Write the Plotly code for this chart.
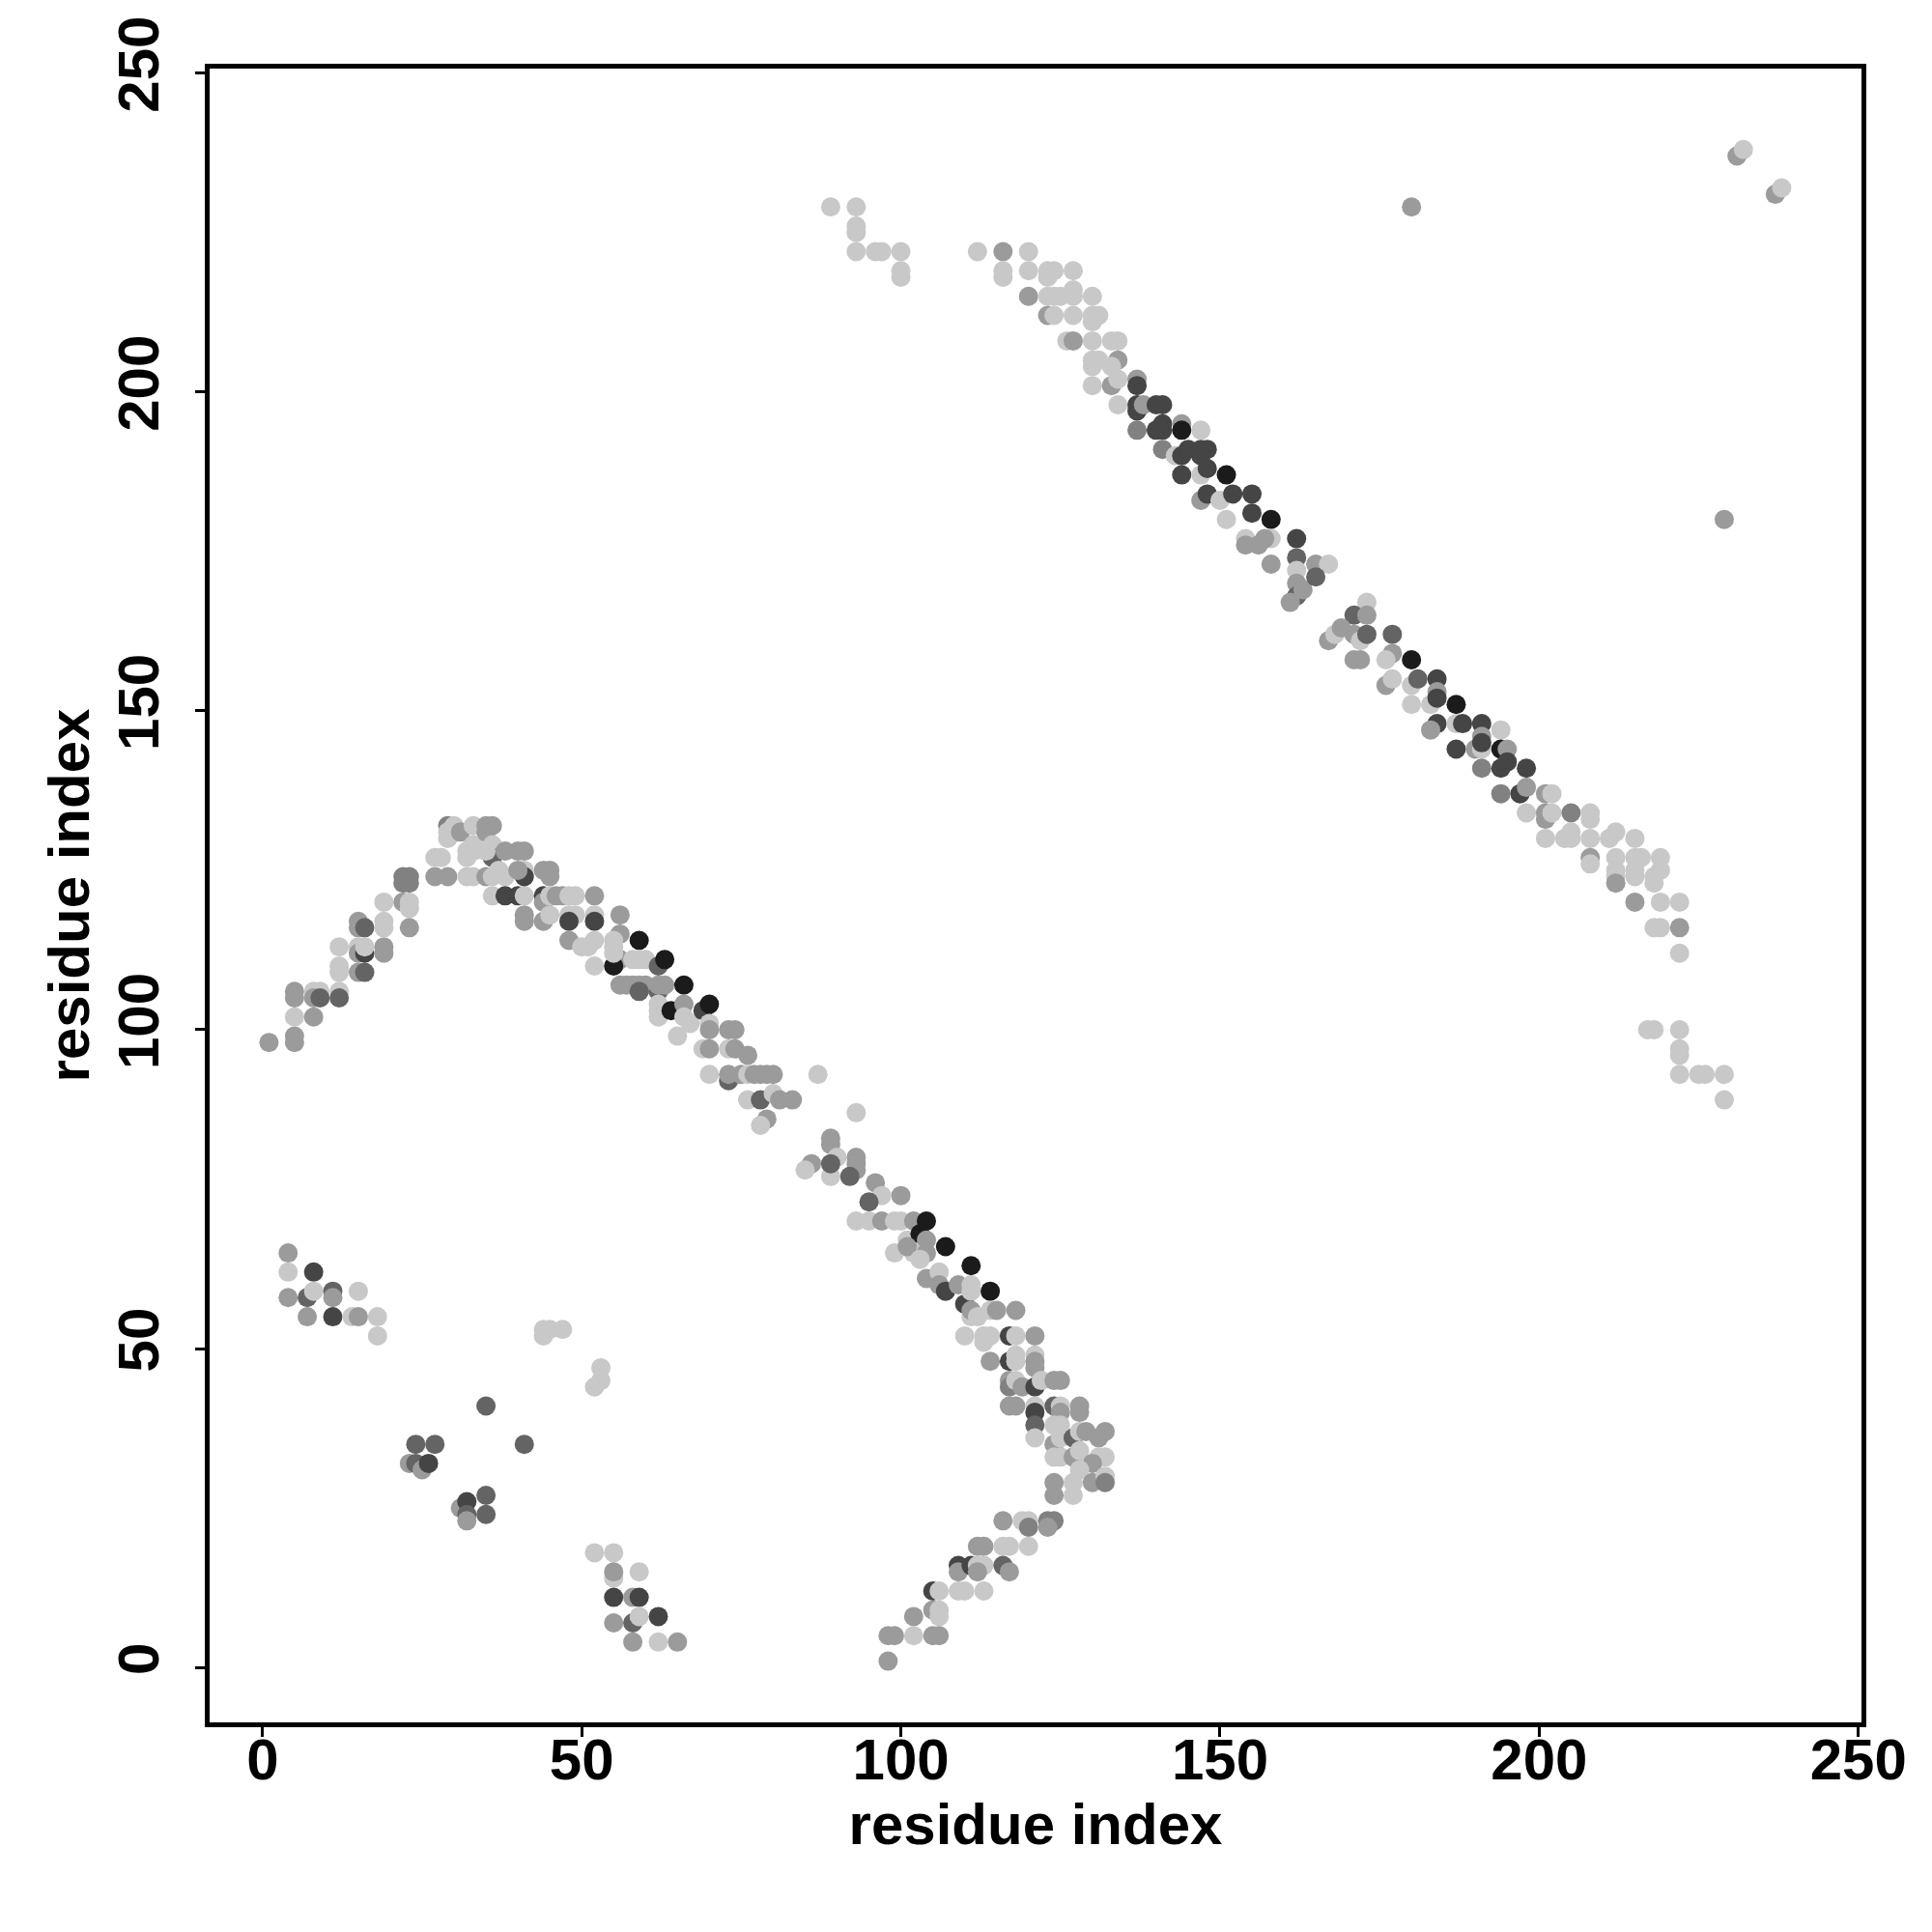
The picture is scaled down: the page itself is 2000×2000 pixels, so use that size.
import plotly.graph_objects as go

# Contact map: (residue i, residue j, contact score)
lower_left = [(4,65,0.39),(4,62,0.2),(8,62,0.75),(4,58,0.39),(7,58,0.62),(8,59,0.2),(11,59,0.62),(11,58,0.39),
              (15,59,0.2),(7,55,0.39),(11,55,0.75),(14,55,0.2),(15,55,0.39),(18,55,0.2),(18,52,0.2)]
mid_light = [(44,53,0.2),(45,53,0.2),(47,53,0.2),(44,52,0.2),(53,47,0.2),(53,45,0.2),(52,44,0.2)]
mid_dark = [(35,41,0.62),(24,35,0.62),(27,35,0.62),(41,35,0.62),(23,32,0.39),(24,32,0.62),(25,31,0.39),(26,32,0.75),
            (31,25,0.39),(32,26,0.75),(32,24,0.62),(32,23,0.39),(35,27,0.62),(35,24,0.62)]
bottom_cluster = [(52,18,0.2),(55,18,0.2),(55,14,0.2),(55,15,0.39),(59,15,0.2),(55,11,0.75),(58,11,0.39),(59,11,0.75),
                  (55,7,0.39),(58,7,0.62),(59,8,0.2),(62,8,0.75),(58,4,0.39),(62,4,0.2),(65,4,0.39)]
rise_band = [(1,98,0.39),(5,98,0.39),(5,99,0.39),(5,102,0.2),(8,102,0.39),(5,106,0.39),(5,105,0.39),(8,106,0.2),
             (9,106,0.2),(8,105,0.39),(9,105,0.62),(12,106,0.2),(12,105,0.62),(12,110,0.2),(12,109,0.2),(15,109,0.39),
             (16,109,0.62),(12,113,0.2),(15,113,0.2),(15,112,0.39),(16,112,0.75),(16,113,0.2),(19,113,0.39),(19,112,0.39),
             (15,117,0.39),(15,116,0.39),(16,116,0.62),(19,117,0.2),(19,116,0.2),(19,120,0.2),(22,120,0.39),(23,120,0.2),
             (23,119,0.2),(23,116,0.39),(22,124,0.5),(23,124,0.5),(22,123,0.5),(23,123,0.5),(27,124,0.39),(29,124,0.39),
             (27,127,0.2),(28,127,0.2),(29,132,0.5),(29,131,0.2),(30,132,0.2),(29,130,0.2),(31,131,0.39),(33,132,0.2),
             (32,128,0.2),(33,128,0.2),(32,127,0.2),(33,129,0.2),(32,124,0.2),(33,124,0.2),(35,124,0.39),(35,132,0.39),
             (36,132,0.39),(35,131,0.39),(36,129,0.2),(36,127,0.62),(35,128,0.2),(38,128,0.39),(40,128,0.39),(41,128,0.39),
             (36,124,0.2),(37,125,0.2),(38,124,0.2)]
fall_band = [(36,121,0.2),(38,121,0.75),(40,121,0.75),(41,121,0.2),(41,125,0.2),(41,124,0.75),(40,125,0.39),(44,125,0.39),
             (45,125,0.39),(45,124,0.39),(44,121,0.75),(44,120,0.39),(45,121,0.2),(46,121,0.39),(47,121,0.39),(48,121,0.2),
             (49,121,0.2),(52,121,0.39),(41,118,0.39),(41,117,0.39),(44,117,0.39),(45,118,0.2),(48,118,0.2),(49,118,0.2),
             (48,117,0.75),(52,118,0.2),(52,117,0.75),(48,114,0.39),(50,113,0.2),(51,113,0.2),(52,114,0.2),(52,110,0.2),
             (56,118,0.39),(56,115,0.39),(55,114,0.2),(55,113,0.2),(56,111,0.39),(55,110,0.93),(55,112,0.2),(59,114,0.93),
             (58,111,0.2),(59,111,0.2),(60,111,0.2),(62,110,0.62),(63,111,0.93),(56,107,0.39),(57,107,0.39),(58,107,0.39),
             (59,107,0.39),(60,107,0.39),(59,106,0.62),(62,106,0.62),(62,107,0.39),(63,107,0.39),(66,107,0.93),(62,103,0.2),
             (62,104,0.2),(62,102,0.2),(64,103,0.93),(66,104,0.39),(66,102,0.2),(67,101,0.2),(65,99,0.2),(69,103,0.75),
             (70,104,0.93),(70,101,0.2),(70,100,0.39),(69,97,0.2),(70,97,0.39),(73,100,0.39),(74,100,0.39),(73,97,0.2),
             (74,97,0.39),(76,96,0.39),(70,93,0.2),(73,92,0.62),(73,93,0.39),(75,93,0.39),(76,93,0.2),(77,93,0.39),
             (78,93,0.39),(79,93,0.39),(80,93,0.39),(87,93,0.2),(76,89,0.2),(78,89,0.62),(80,90,0.2),(81,89,0.39),
             (83,89,0.39),(79,86,0.39),(78,85,0.2),(93,87,0.2)]
fall_band_2 = [(86,79,0.39),(85,78,0.2),(89,83,0.39),(89,82,0.39),(90,80,0.2),(89,77,0.2),(89,79,0.62),(93,80,0.39),
               (93,79,0.39),(93,78,0.39),(92,77,0.62),(96,76,0.39),(97,74,0.2),(95,73,0.62),(100,74,0.39),(93,70,0.2),
               (95,70,0.2),(97,70,0.39),(99,70,0.2),(100,70,0.2),(102,70,0.39),(104,70,0.93),(101,67,0.2),(103,68,0.93),
               (104,67,0.39),(99,65,0.2),(102,65,0.2),(104,65,0.39),(107,66,0.93),(101,66,0.39),(103,64,0.2),(104,61,0.39),
               (106,62,0.2),(106,60,0.39),(107,59,0.75),(109,60,0.39),(111,63,0.93),(110,57,0.75),(111,55,0.2)]
fall_band_3 = [(111,60,0.2),(111,59,0.2),(114,59,0.93),(111,56,0.39),(112,55,0.2),(114,56,0.2),(115,56,0.39),(118,56,0.39),
               (110,52,0.2),(113,52,0.2),(114,52,0.2),(113,51,0.2),(117,52,0.75),(118,52,0.2),(121,52,0.39),(114,48,0.39),
               (117,48,0.75),(118,49,0.2),(118,48,0.2),(121,49,0.2),(121,48,0.39),(121,47,0.39),(117,45,0.39),(117,44,0.5),
               (118,45,0.2),(119,44,0.39),(121,44,0.75),(122,45,0.2),(124,45,0.39),(125,45,0.39),(117,41,0.39),(118,41,0.39),
               (121,41,0.2),(121,40,0.75),(121,38,0.62),(121,36,0.2),(124,41,0.62),(125,41,0.2),(125,40,0.39),(128,41,0.39),
               (128,40,0.39),(124,38,0.2),(125,38,0.2),(124,35,0.39),(125,36,0.2),(127,36,0.62),(128,37,0.2),(129,37,0.39),
               (132,37,0.39),(131,36,0.39),(124,33,0.2),(125,33,0.2),(127,33,0.39),(128,34,0.2),(131,33,0.2),(132,33,0.2),
               (130,32,0.39),(124,29,0.39),(124,27,0.39),(127,29,0.2),(127,27,0.2),(128,31,0.2),(130,29,0.39),(132,30,0.2),
               (132,29,0.5)]
return_band = [(116,23,0.39),(119,23,0.2),(120,23,0.2),(120,22,0.5),(123,23,0.5),(124,23,0.5),(123,22,0.39),(112,19,0.39),
               (113,19,0.39),(116,19,0.2),(117,19,0.2),(120,19,0.2),(109,16,0.75),(109,15,0.39),(111,16,0.75),(112,16,0.2),
               (113,16,0.2),(112,15,0.39),(116,16,0.62),(117,15,0.39),(105,12,0.75),(106,12,0.2),(109,12,0.2),(110,12,0.2),
               (113,12,0.2),(105,9,0.39),(106,9,0.2),(106,8,0.2),(102,8,0.39),(98,5,0.39),(99,5,0.39),(102,5,0.2),
               (105,5,0.39),(106,5,0.39),(98,1,0.39)]
upper_top = [(89,229,0.2),(93,229,0.2),(93,226,0.2),(93,225,0.2),(93,222,0.2),(96,222,0.2),(97,222,0.2),(100,222,0.2),
             (100,219,0.2),(100,218,0.2),(112,222,0.2),(116,222,0.39),(120,222,0.2),(116,219,0.2),(116,218,0.2),
             (120,219,0.2),(123,219,0.2),(124,219,0.2),(123,218,0.2),(127,219,0.2),(120,215,0.39),(123,215,0.2),
             (124,215,0.2),(125,215,0.2),(127,216,0.2),(127,215,0.2),(130,215,0.2),(123,212,0.39),(124,212,0.2),
             (127,212,0.2),(130,212,0.2),(131,212,0.2),(130,211,0.2),(126,208,0.2),(127,208,0.39),(130,208,0.2),
             (133,208,0.2),(134,208,0.2),(130,205,0.2),(130,204,0.2),(131,205,0.2),(134,205,0.39),(133,204,0.2),
             (130,201,0.2),(133,201,0.39),(134,202,0.2),(137,202,0.39),(137,201,0.75),(134,198,0.2),(137,198,0.75),
             (137,197,0.75),(138,198,0.39),(140,198,0.75),(141,198,0.75)]
upper_mid = [(137,194,0.5),(140,194,0.75),(141,195,0.75),(141,194,0.75),(144,195,0.39),(144,194,0.93),(147,194,0.2),
             (141,191,0.5),(143,190,0.2),(144,190,0.75),(145,191,0.75),(147,191,0.75),(148,191,0.75),(147,190,0.75),
             (144,187,0.75),(147,187,0.2),(148,188,0.75),(151,187,0.93),(147,183,0.39),(148,184,0.75),(150,183,0.2),
             (152,184,0.75),(155,184,0.75),(151,180,0.2),(155,181,0.75),(158,180,0.93),(154,177,0.2),(154,176,0.39),
             (158,177,0.2),(157,177,0.39),(162,177,0.75),(158,173,0.39),(156,176,0.39),(162,174,0.62),(162,172,0.2),
             (162,170,0.39),(162,168,0.62),(161,167,0.39),(163,169,0.39),(165,173,0.39),(167,173,0.2),(165,171,0.62)]
upper_low = [(173,167,0.2),(171,165,0.62),(173,165,0.39),(167,161,0.39),(168,162,0.2),(169,163,0.39),(171,162,0.39),
             (172,161,0.2),(173,162,0.62),(177,162,0.62),(177,159,0.39),(171,158,0.39),(172,158,0.39),(176,158,0.2),
             (180,158,0.93),(176,154,0.39),(177,155,0.2),(180,154,0.2),(181,155,0.62),(184,155,0.75),(184,153,0.39),
             (180,151,0.2),(183,151,0.2),(184,152,0.75),(187,151,0.93),(184,148,0.75),(183,147,0.39),(187,148,0.2),
             (188,148,0.75),(191,148,0.75),(191,146,0.39),(194,147,0.2),(187,144,0.75),(190,144,0.39),(191,144,0.2),
             (191,145,0.75),(194,144,0.93),(195,144,0.39),(191,141,0.5),(194,141,0.75),(195,142,0.75),(198,141,0.75),
             (194,137,0.5),(197,137,0.75),(198,138,0.39),(201,137,0.39),(202,137,0.2),(198,134,0.2),(201,134,0.39),
             (201,133,0.39),(202,134,0.2),(205,134,0.5),(208,134,0.2),(208,133,0.2),(201,130,0.2),(204,130,0.2),
             (205,130,0.2),(205,131,0.2),(208,130,0.2),(211,130,0.2),(212,131,0.2),(215,130,0.2),(208,127,0.39),
             (208,126,0.2),(212,127,0.2),(212,125,0.2),(212,124,0.2),(212,123,0.39),(215,127,0.2),(216,127,0.2),
             (215,125,0.2),(215,124,0.2),(219,127,0.2),(218,124,0.2),(218,123,0.2),(219,125,0.2),(215,120,0.39),
             (219,120,0.2),(222,120,0.2),(218,116,0.2),(219,116,0.2),(222,116,0.39),(222,112,0.2)]
upper_tail = [(217,100,0.2),(218,100,0.2),(222,100,0.2),(222,97,0.2),(222,96,0.2),(222,93,0.2),(225,93,0.2),
              (226,93,0.2),(229,93,0.2),(229,89,0.2)]
outliers = [(180,229,0.39),(231,237,0.39),(232,238,0.2),(237,231,0.39),(238,232,0.2),(229,180,0.39)]

tick_values = [0, 50, 100, 150, 200, 250]
axis_title = "residue index"

groups = [lower_left, mid_light, mid_dark, bottom_cluster, rise_band, fall_band, fall_band_2, fall_band_3,
          return_band, upper_top, upper_mid, upper_low, upper_tail, outliers]
pts = [p for g in groups for p in g]
xs = [p[0] for p in pts]
ys = [p[1] for p in pts]
cs = [p[2] for p in pts]

fig = go.Figure(go.Scatter(
    x=xs, y=ys, mode="markers",
    marker=dict(size=20, color=cs, colorscale=[[0, "rgb(200,200,200)"], [1, "rgb(10,10,10)"]],
                cmin=0.2, cmax=1.0, line=dict(width=0), opacity=1),
    showlegend=False,
))

font_b = dict(family="Liberation Sans, Arial, Helvetica, sans-serif", size=60, color="black", weight="bold")
axis_common = dict(
    showgrid=False, zeroline=False, showline=True, linecolor="black", linewidth=4.5, mirror=True,
    ticks="outside", ticklen=10, tickwidth=3, tickcolor="black", tickvals=tick_values,
    tickfont=font_b,
)
fig.update_layout(
    width=2000, height=2000,
    plot_bgcolor="white", paper_bgcolor="white",
    margin=dict(l=209, r=81, t=63, b=225, autoexpand=False),
    xaxis=dict(range=[-8.3, 250.5], ticklabelstandoff=-28,
               title=dict(text=axis_title, font=font_b, standoff=13), **axis_common),
    yaxis=dict(range=[-8.6, 250.7], tickangle=-90, ticklabelstandoff=14,
               title=dict(text=axis_title, font=font_b, standoff=0), **axis_common),
)
fig.write_html("out.html")
